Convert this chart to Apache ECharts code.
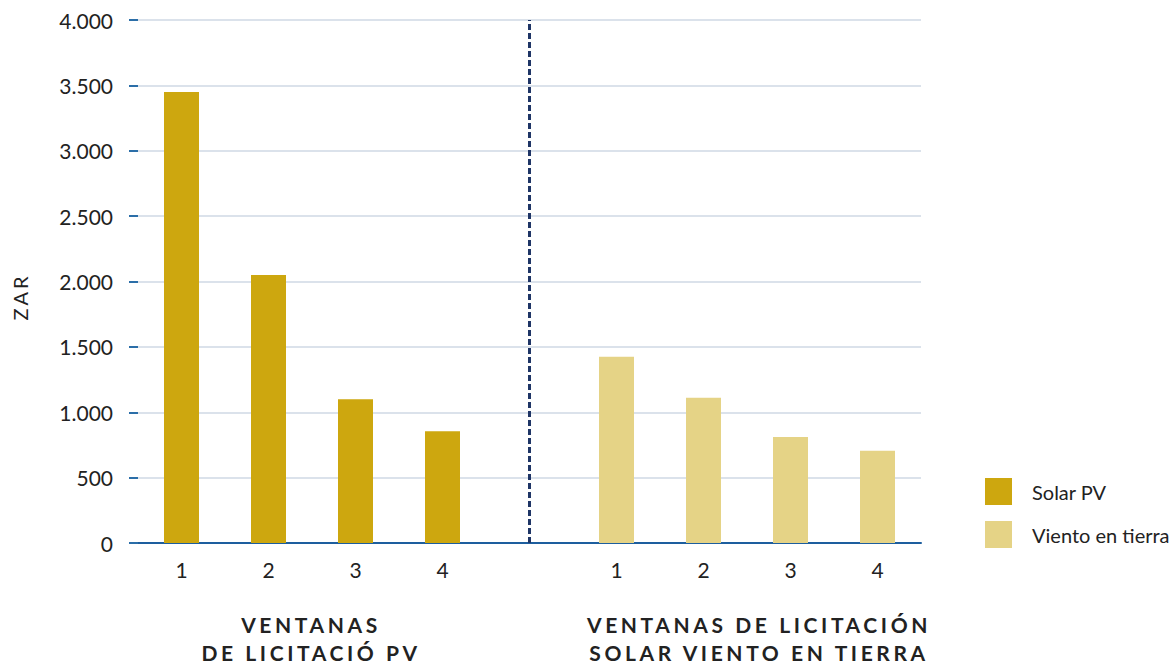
<!DOCTYPE html>
<html>
<head>
<meta charset="utf-8">
<script src="https://cdn.jsdelivr.net/npm/echarts@6/dist/echarts.min.js"></script>
<style>
	html, body { margin: 0; padding: 0; background: #fff; }
	#main { width: 1172px; height: 666px; }
</style>
</head>
<body>
<div id="main"></div>
<script>
// Datos (ZAR)
var categories = ['1', '2', '3', '4', '', '1', '2', '3', '4'];
var solarPV = [3450, 2050, 1100, 855, '-', '-', '-', '-', '-'];
var vientoTierra = ['-', '-', '-', '-', '-', 1425, 1110, 810, 705];
var seriesNames = ['Solar PV', 'Viento en tierra'];
var groupTitles = ['VENTANAS\nDE LICITACIÓ PV', 'VENTANAS DE LICITACIÓN\nSOLAR VIENTO EN TIERRA'];
var yMin = 0, yMax = 4000, yStep = 500;

var font = 'Lato, "Open Sans", sans-serif';
var textColor = '#222222';

var myChart = echarts.init(document.getElementById('main'), null, { renderer: 'svg' });

var option = {
	animation: false,
	textStyle: { fontFamily: font },
	grid: {
		left: 138,
		right: 251,
		top: 20,
		bottom: 123
	},
	legend: {
		orient: 'vertical',
		left: 980,
		top: 473,
		icon: 'rect',
		itemWidth: 27,
		itemHeight: 27,
		itemGap: 16,
		data: seriesNames,
		textStyle: {
			fontFamily: font,
			fontSize: 20,
			color: textColor,
			padding: [0, 0, 0, 15]
		}
	},
	xAxis: {
		type: 'category',
		data: categories,
		axisLine: { lineStyle: { color: '#1d5e9e', width: 2 } },
		axisTick: { show: false },
		axisLabel: {
			color: textColor,
			fontSize: 21,
			margin: 16
		}
	},
	yAxis: {
		type: 'value',
		min: yMin,
		max: yMax,
		interval: yStep,
		axisLine: { show: false },
		axisTick: {
			show: true,
			length: 9,
			lineStyle: { color: '#2b6ea8', width: 2 }
		},
		splitLine: { lineStyle: { color: '#dbe2eb', width: 2 } },
		axisLabel: {
			color: textColor,
			fontSize: 21,
			margin: 25,
			formatter: function(v) {
				return String(v).replace(/\B(?=(\d{3})+(?!\d))/g, '.');
			}
		}
	},
	series: [{
		name: seriesNames[0],
		type: 'bar',
		barWidth: 35,
		barGap: '-100%',
		itemStyle: { color: '#cda70f' },
		data: solarPV,
		markLine: {
			silent: true,
			symbol: 'none',
			label: { show: false },
			lineStyle: { color: '#1f3566', width: 3, type: [6, 3] },
			data: [{ xAxis: 4 }]
		}
	}, {
		name: seriesNames[1],
		type: 'bar',
		barWidth: 35,
		barGap: '-100%',
		itemStyle: { color: '#e5d386' },
		data: vientoTierra
	}],
	graphic: [{
		type: 'text',
		x: 20,
		y: 297,
		rotation: Math.PI / 2,
		style: {
			text: 'ZAR',
			fontFamily: font,
			fontSize: 20,
			fill: textColor,
			align: 'center',
			verticalAlign: 'middle'
		}
	}, {
		type: 'text',
		x: 311,
		y: 610,
		style: {
			text: groupTitles[0],
			fontFamily: font,
			fontSize: 21,
			fontWeight: 'bold',
			lineHeight: 28,
			fill: textColor,
			align: 'center',
			verticalAlign: 'top'
		}
	}, {
		type: 'text',
		x: 759,
		y: 610,
		style: {
			text: groupTitles[1],
			fontFamily: font,
			fontSize: 21,
			fontWeight: 'bold',
			lineHeight: 28,
			fill: textColor,
			align: 'center',
			verticalAlign: 'top'
		}
	}]
};

myChart.setOption(option);

// espaciado de letras en los títulos (renderer svg)
function spaceOut() {
	var spaced = ['ZAR'];
	groupTitles.forEach(function(t) {
		spaced = spaced.concat(t.split('\n'));
	});
	var texts = document.querySelectorAll('#main text, #main tspan');
	for (var i = 0; i < texts.length; i++) {
		var t = texts[i];
		if (spaced.indexOf(t.textContent) > -1) {
			t.setAttribute('letter-spacing', t.textContent == 'ZAR' ? '3' : '3.6');
		}
	}
}
spaceOut();
myChart.on('finished', spaceOut);
</script>
</body>
</html>
